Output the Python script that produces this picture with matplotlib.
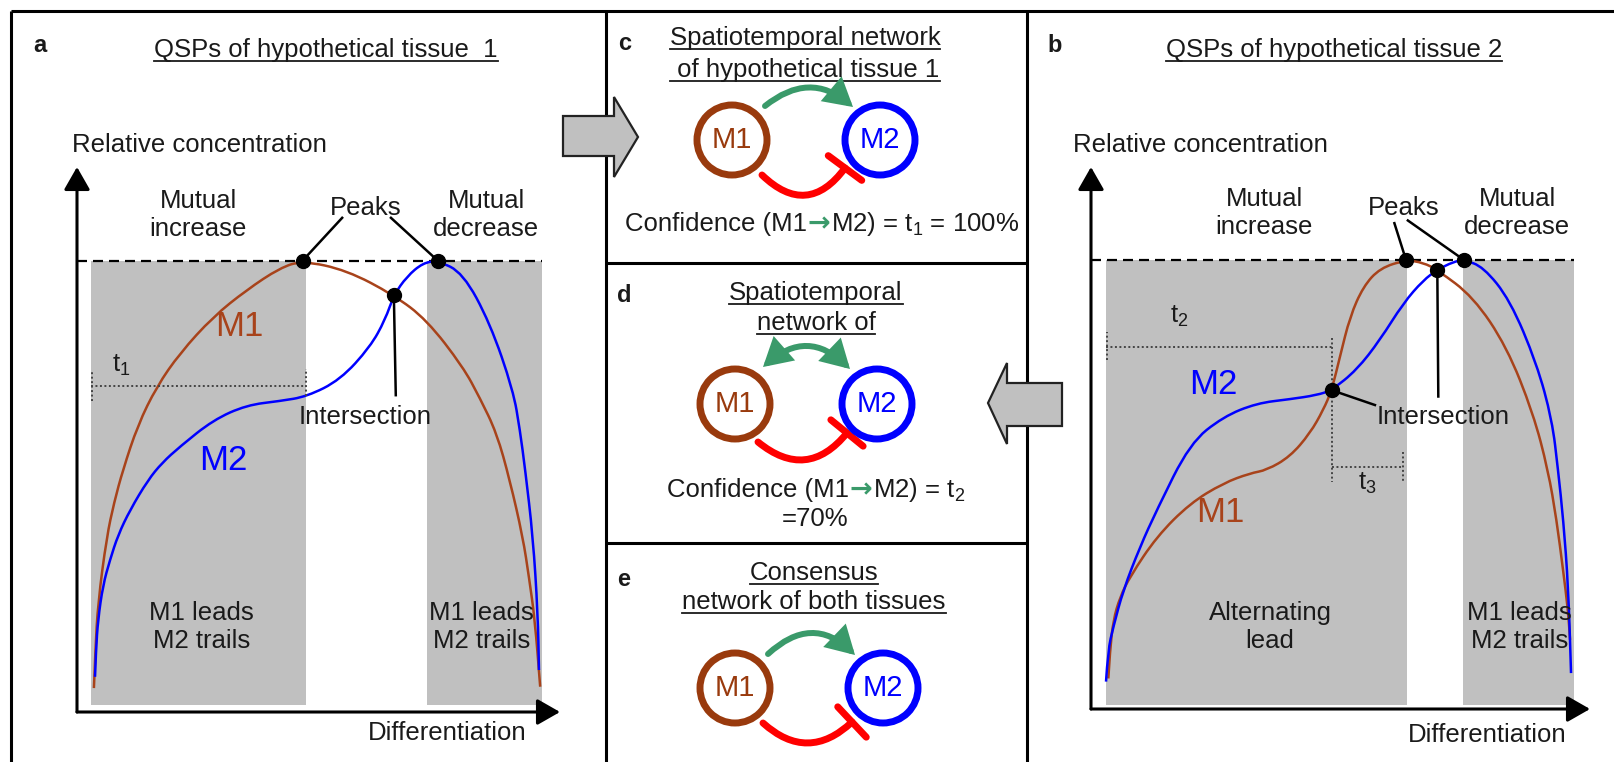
import matplotlib
matplotlib.use('Agg')
import matplotlib.pyplot as plt
from matplotlib.patches import Circle, Polygon, FancyArrowPatch, PathPatch
from matplotlib.path import Path

plt.rcParams['font.family'] = ['Liberation Sans', 'DejaVu Sans']
plt.rcParams['mathtext.fontset'] = 'custom'
plt.rcParams['mathtext.rm'] = 'Liberation Sans'
plt.rcParams['mathtext.it'] = 'Liberation Sans'
plt.rcParams['mathtext.default'] = 'regular'

W, H = 1614, 762

# ---- panel a: QSPs of tissue 1 (x = differentiation 0-100, y = relative concentration, peak = 1)
a_m1_x = [3.5, 3.8, 4.35, 6.15, 7.7, 9.5, 12.6, 16.5, 21.3, 28.2, 35.1, 42.0, 46.7, 55.8,
          65.6, 72.4, 79.9, 83.4, 86.9, 89.6, 92.3, 93.6, 94.8, 95.9]
a_m1_y = [0.053, 0.137, 0.242, 0.388, 0.465, 0.536, 0.636, 0.721, 0.795, 0.876, 0.935, 0.984,
          1.0, 0.979, 0.924, 0.869, 0.765, 0.696, 0.618, 0.514, 0.388, 0.297, 0.204, 0.056]
a_m2_x = [3.73, 3.93, 4.35, 5.38, 6.83, 8.5, 11.0, 14.7, 17.6, 21.3, 28.2, 35.1, 42.0, 47.6,
          54.5, 60.7, 63.8, 65.6, 68.3, 71.6, 74.7, 79.9, 85.5, 90.3, 91.7, 92.8, 94.4, 95.4, 95.65]
a_m2_y = [0.078, 0.137, 0.204, 0.281, 0.337, 0.392, 0.448, 0.514, 0.552, 0.588, 0.647, 0.680,
          0.689, 0.699, 0.736, 0.809, 0.869, 0.924, 0.965, 0.995, 1.0, 0.973, 0.862, 0.713,
          0.625, 0.536, 0.388, 0.219, 0.093]
a_peaks_x = [46.7, 74.7]
a_cross_x = [65.6]
a_cross_y = [0.924]
a_shade = [(3.0, 47.5), (72.4, 96.2)]
a_t1 = (3.0, 47.5, 0.723)

# ---- panel b: QSPs of tissue 2
b_m1_x = [3.47, 3.81, 4.47, 5.81, 7.82, 13.17, 19.84, 26.51, 31.86, 35.21, 39.88, 43.89, 46.55,
          48.24, 49.9, 51.9, 54.57, 57.92, 63.13, 66.59, 69.4, 76.6, 83.3, 88.6, 91.6, 93.3,
          94.6, 95.6, 96.0]
b_m1_y = [0.068, 0.131, 0.198, 0.249, 0.295, 0.384, 0.458, 0.503, 0.525, 0.532, 0.562, 0.614,
          0.666, 0.710, 0.785, 0.874, 0.941, 0.982, 1.0, 0.994, 0.978, 0.918, 0.807, 0.659,
          0.532, 0.421, 0.310, 0.220, 0.154]
b_m2_x = [3.01, 3.41, 4.47, 6.47, 9.82, 13.17, 19.84, 26.51, 33.2, 39.88, 45.23, 48.24,
          53.25, 57.92, 62.59, 66.59, 69.4, 72.6, 74.75, 78.6, 83.97, 89.3, 92.4, 93.6, 94.65,
          95.65, 96.2]
b_m2_y = [0.061, 0.131, 0.183, 0.265, 0.361, 0.443, 0.592, 0.651, 0.681, 0.690, 0.699,
          0.710, 0.755, 0.822, 0.904, 0.955, 0.978, 0.996, 1.0, 0.985, 0.911, 0.770, 0.644,
          0.532, 0.421, 0.272, 0.080]
b_peaks_x = [63.13, 74.75]
b_cross_x = [48.24, 69.4]
b_cross_y = [0.710, 0.978]
b_shade = [(3.0, 63.3), (74.6, 96.8)]
b_t2 = (3.0, 48.2, 0.807)
b_t3 = (48.2, 62.6, 0.540)

INK = '#1a1a1a'
BROWN = '#a8431b'
RING = '#993a0d'
BLUE = '#0000ff'
GREEN = '#3a9a6a'
RED = '#ff0000'
SHADE = '#c0c0c0'
FS = 18.5

fig = plt.figure(figsize=(W / 100, H / 100), dpi=100)
bg = fig.add_axes([0, 0, 1, 1])
bg.set_xlim(0, W)
bg.set_ylim(H, 0)
bg.axis('off')
renderer = fig.canvas.get_renderer()

# frame and dividers
k = dict(color='k', lw=2.2, solid_capstyle='butt')
bg.plot([11, W], [11, 11], **k)
bg.plot([11, 11], [11, H], **k)
bg.plot([606, 606], [11, H], **k)
bg.plot([1027, 1027], [11, H], **k)
bg.plot([606, 1027], [263, 263], **k)
bg.plot([606, 1027], [543, 543], **k)


def underlined(x, y, s, size=FS):
    t = bg.text(x, y, s, ha='center', va='center', fontsize=size, color=INK)
    bb = t.get_window_extent(renderer)
    yb = H - bb.y0 - 1
    bg.plot([bb.x0, bb.x1], [yb, yb], color=INK, lw=1.3)


def coloured_line(cx, base, parts, size=FS):
    arts = []
    for s, col, bold in parts:
        if bold:
            t = bg.text(0, base, s, fontsize=size + 1, color=col, ha='left', va='baseline',
                        family='DejaVu Sans', fontweight='bold')
        else:
            t = bg.text(0, base, s, fontsize=size, color=col, ha='left', va='baseline')
        arts.append(t)
    widths = [a.get_window_extent(renderer).width for a in arts]
    x = cx - sum(widths) / 2
    for a, w in zip(arts, widths):
        a.set_x(x)
        x += w + 1


def smooth_curve(ax, xs, ys, color):
    # quadratic spline through the read points (points act as control points)
    verts = [(xs[0], ys[0])]
    codes = [Path.MOVETO]
    for i in range(1, len(xs) - 1):
        verts += [(xs[i], ys[i]), ((xs[i] + xs[i + 1]) / 2, (ys[i] + ys[i + 1]) / 2)]
        codes += [Path.CURVE3, Path.CURVE3]
    verts.append((xs[-1], ys[-1]))
    codes.append(Path.LINETO)
    ax.add_patch(PathPatch(Path(verts, codes), fc='none', ec=color, lw=1.8, zorder=3))


def qsp_panel(box, y_top, m1x, m1y, m2x, m2y, shades, shade_bottom, peaks_x, cross_x, cross_y):
    left, right, bottom, top = box
    ax = fig.add_axes([left / W, 1 - bottom / H, (right - left) / W, (bottom - top) / H])
    ax.set_xlim(0, 100)
    ax.set_ylim(0, y_top)
    ax.axis('off')
    for x0, x1 in shades:
        ax.fill_between([x0, x1], shade_bottom, 1.0, color=SHADE, lw=0, zorder=1)
    ax.plot([0, shades[-1][1]], [1, 1], color='k', lw=1.6, ls=(0, (4.5, 2.7)), zorder=2)
    smooth_curve(ax, m1x, m1y, BROWN)
    smooth_curve(ax, m2x, m2y, BLUE)
    ax.plot(peaks_x, [1.0] * len(peaks_x), 'o', color='k', ms=10, zorder=6)
    ax.plot(cross_x, cross_y, 'o', color='k', ms=10, zorder=6)
    ap = dict(arrowstyle='-|>,head_length=0.7,head_width=0.4', mutation_scale=20, lw=2.2,
              color='k', shrinkA=0, shrinkB=0)
    ax.annotate('', xy=(0, 1), xycoords='axes fraction', xytext=(0, 0),
                textcoords='axes fraction', arrowprops=ap, annotation_clip=False)
    ax.annotate('', xy=(1, 0), xycoords='axes fraction', xytext=(0, 0),
                textcoords='axes fraction', arrowprops=ap, annotation_clip=False)
    return ax


def label(ax, x, y, s, **kw):
    kw.setdefault('color', INK)
    kw.setdefault('fontsize', FS)
    kw.setdefault('ha', 'center')
    ax.text(x, y, s, va='center', **kw)


def seg(ax, p, q):
    ax.plot([p[0], q[0]], [p[1], q[1]], color='k', lw=1.8, zorder=5, clip_on=False)


def dotted(ax, xs, ys):
    ax.plot(xs, ys, color='#444444', lw=1.4, ls=(0, (1, 1.3)), zorder=4)


# ---------------- panel a
ax_a = qsp_panel((77, 560, 712, 167), (712 - 167) / 451.3, a_m1_x, a_m1_y, a_m2_x, a_m2_y,
                 a_shade, 0.0155, a_peaks_x, a_cross_x, a_cross_y)
label(ax_a, -1.0, 1.256, 'Relative concentration', ha='left')
label(ax_a, 25.1, 1.101, 'Mutual\nincrease')
label(ax_a, 59.8, 1.117, 'Peaks')
label(ax_a, 84.7, 1.101, 'Mutual\ndecrease')
seg(ax_a, (54.9, 1.095), (a_peaks_x[0], 1.0))
seg(ax_a, (65.0, 1.095), (a_peaks_x[1], 1.0))
label(ax_a, 33.7, 0.854, 'M1', color=BROWN, fontsize=25)
label(ax_a, 30.2, 0.558, 'M2', color=BLUE, fontsize=25)
x0, x1, lv = a_t1
dotted(ax_a, [x0, x1], [lv, lv])
dotted(ax_a, [x0 + 0.2, x0 + 0.2], [0.69, 0.754])
dotted(ax_a, [x1, x1], [0.70, 0.76])
label(ax_a, 9.25, 0.767, 't$_1$')
label(ax_a, 59.6, 0.654, 'Intersection')
seg(ax_a, (a_cross_x[0], a_cross_y[0]), (66.0, 0.702))
label(ax_a, 25.8, 0.189, 'M1 leads\nM2 trails')
label(ax_a, 83.8, 0.189, 'M1 leads\nM2 trails')
label(ax_a, 76.6, -0.047, 'Differentiation')

# ---------------- panel b
ax_b = qsp_panel((1091, 1590, 709, 167), (709 - 167) / 449, b_m1_x, b_m1_y, b_m2_x, b_m2_y,
                 b_shade, 0.009, b_peaks_x, b_cross_x, b_cross_y)
label(ax_b, -3.6, 1.256, 'Relative concentration', ha='left')
label(ax_b, 34.7, 1.105, 'Mutual\nincrease')
label(ax_b, 62.7, 1.115, 'Peaks')
label(ax_b, 85.4, 1.105, 'Mutual\ndecrease')
seg(ax_b, (60.8, 1.082), (b_peaks_x[0], 1.0))
seg(ax_b, (63.5, 1.088), (b_peaks_x[1], 1.0))
label(ax_b, 24.5, 0.722, 'M2', color=BLUE, fontsize=25)
label(ax_b, 25.9, 0.437, 'M1', color=BROWN, fontsize=25)
x0, x1, lv = b_t2
dotted(ax_b, [x0, x1], [lv, lv])
dotted(ax_b, [x0 + 0.2, x0 + 0.2], [0.777, 0.840])
dotted(ax_b, [x1, x1], [0.826, 0.506])
label(ax_b, 17.6, 0.874, 't$_2$')
x0, x1, lv = b_t3
dotted(ax_b, [x0, x1], [lv, lv])
dotted(ax_b, [x1, x1], [0.573, 0.506])
label(ax_b, 55.3, 0.503, 't$_3$')
label(ax_b, 70.6, 0.651, 'Intersection')
seg(ax_b, (b_cross_x[0], b_cross_y[0]), (56.9, 0.677))
seg(ax_b, (b_cross_x[1], b_cross_y[1]), (69.6, 0.696))
label(ax_b, 35.9, 0.183, 'Alternating\nlead')
label(ax_b, 85.9, 0.183, 'M1 leads\nM2 trails')
label(ax_b, 79.3, -0.058, 'Differentiation')

# ---------------- titles and panel letters
underlined(326, 50, 'QSPs of hypothetical tissue  1')
underlined(1334, 50, 'QSPs of hypothetical tissue 2')
for x, y, s in [(33, 45, 'a'), (1047, 45, 'b'), (618, 43, 'c'), (617, 295, 'd'), (617, 580, 'e')]:
    bg.text(x, y, s, fontsize=17, fontweight='bold', color=INK, ha='left', va='center')

underlined(805, 38, 'Spatiotemporal network')
underlined(805, 70, ' of hypothetical tissue 1')
underlined(816, 293, 'Spatiotemporal')
underlined(816, 323, 'network of')
underlined(814, 573, 'Consensus')
underlined(814, 602, 'network of both tissues')


def network(c1, c2, green, red, double=False):
    for (cx, cy), col, lab in ((c1, RING, 'M1'), (c2, BLUE, 'M2')):
        bg.add_patch(Circle((cx, cy), 35, fc='white', ec=col, lw=5, zorder=3))
        bg.text(cx, cy, lab, color=col, fontsize=21, ha='center', va='center', zorder=4)
    ga, gb, grad = green
    style = '<|-|>' if double else '-|>'
    bg.add_patch(FancyArrowPatch(ga, gb, connectionstyle=f'arc3,rad={grad}',
                                 arrowstyle=f'{style},head_length=0.7,head_width=0.4',
                                 mutation_scale=20, lw=4.3, color=GREEN, shrinkA=0, shrinkB=0,
                                 joinstyle='miter', zorder=2))
    ra, rb, rrad = red
    bg.add_patch(FancyArrowPatch(ra, rb, connectionstyle=f'arc3,rad={rrad}',
                                 arrowstyle='-[,widthB=0.75,lengthB=0', mutation_scale=20,
                                 lw=5, color=RED, shrinkA=0, shrinkB=0, zorder=2))


network((732, 140), (880, 140), ((765, 106), (853, 107), -0.41), ((762, 175), (845, 168), 0.57))
network((735, 404), (877, 404), ((763, 367), (850, 369), -0.46), ((758, 442), (847, 433), 0.5),
        double=True)
network((735, 688), (883, 688), ((768, 654), (855, 655), -0.47), ((763, 723), (852, 722), 0.46))

coloured_line(821, 231, [('Confidence (M1', INK, False), ('→', GREEN, True),
                         ('M2) = t$_1$ = 100%', INK, False)])
coloured_line(815, 497, [('Confidence (M1', INK, False), ('→', GREEN, True),
                         ('M2) = t$_2$', INK, False)])
bg.text(815, 526, '=70%', fontsize=FS, color=INK, ha='center', va='baseline')

# ---------------- big grey arrows between panels
arrow_ac = [(563, 116), (614, 116), (614, 97), (638, 137), (614, 177), (614, 156), (563, 156)]
arrow_bd = [(1062, 383), (1007, 383), (1007, 363), (988, 403), (1007, 444), (1007, 426), (1062, 426)]
for pts in (arrow_ac, arrow_bd):
    bg.add_patch(Polygon(pts, closed=True, fc=SHADE, ec='#222222', lw=1.6, zorder=5))

fig.savefig('out.png', dpi=100)
